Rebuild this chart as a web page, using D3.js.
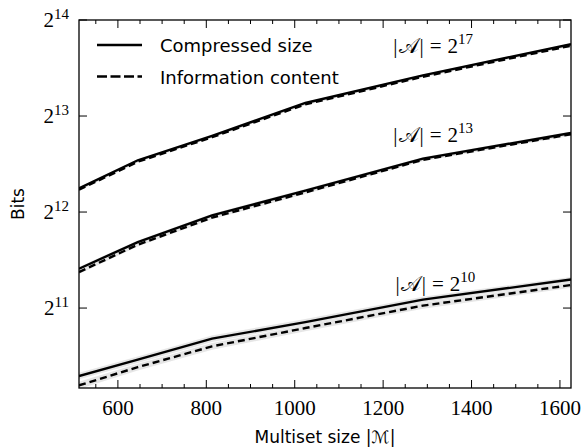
<!DOCTYPE html>
<html>
<head>
<meta charset="utf-8">
<script src="https://cdn.jsdelivr.net/npm/d3@7"></script>
<style>
  body { margin: 0; background: #fff; }
  svg { display: block; }
  .tick-label { font-family: "Liberation Serif", "DejaVu Serif", serif; font-size: 21px; fill: #000; }
  .sans { font-family: "DejaVu Sans", "Open Sans", sans-serif; fill: #000; }
</style>
</head>
<body>
<svg id="chart"></svg>
<script>
// multiset sizes 2^9 .. 2^(10+2/3)
const sizes = [512, 645, 813, 1024, 1290, 1625];

// bits, compressed size (solid) and information content (dashed)
const compressed17 = [4861, 5952, 7100, 9000, 10991, 13749];
const info17       = [4810, 5890, 7030, 8910, 10880, 13610];
const compressed13 = [2721, 3298, 4001, 4782, 6022, 7247];
const info13       = [2656, 3236, 3935, 4719, 5972, 7182];
const compressed10 = [1254, 1411, 1642, 1851, 2176, 2516];
const info10       = [1172, 1337, 1553, 1773, 2084, 2418];

// spread (bits) shown as grey band around each curve
const spread17 = [30, 35, 40, 50, 60, 70];
const spread13 = [35, 40, 45, 55, 65, 75];
const spread10 = [30, 33, 38, 40, 45, 48];

const xTicks = [600, 800, 1000, 1200, 1400, 1600];
const yTicks = [11, 12, 13, 14];
const legendLabels = ["Compressed size", "Information content"];

const series = [
  { exp: "17", solid: compressed17, dashed: info17, spread: spread17, labelX: 1223, labelExp: 13.653 },
  { exp: "13", solid: compressed13, dashed: info13, spread: spread13, labelX: 1223, labelExp: 12.726 },
  { exp: "10", solid: compressed10, dashed: info10, spread: spread10, labelX: 1228, labelExp: 11.174 }
];

const W = 584, H = 448;
const margin = { top: 20, right: 13, bottom: 60, left: 79 };
const width = W - margin.left - margin.right;
const height = H - margin.top - margin.bottom;

const svg = d3.select('#chart').attr('width', W).attr('height', H);
const g = svg.append('g').attr('transform', `translate(${margin.left},${margin.top})`);

const x = d3.scaleLinear().domain([512, 1625]).range([0, width]);
const y = d3.scaleLog().base(2).domain([1150, 16384]).range([height, 0]);

svg.append('defs').append('clipPath').attr('id', 'clip')
  .append('rect').attr('width', width).attr('height', height);

const plot = g.append('g').attr('clip-path', 'url(#clip)');

const line = d3.line().x((d, i) => x(sizes[i])).y(d => y(d));
const area = (vals, sp) => d3.area()
  .x((d, i) => x(sizes[i]))
  .y0((d, i) => y(d - sp[i]))
  .y1((d, i) => y(d + sp[i]))(vals);

series.forEach(s => {
  plot.append('path').attr('d', area(s.solid, s.spread)).attr('fill', '#dcdcdc').attr('fill-opacity', 0.7);
  plot.append('path').attr('d', area(s.dashed, s.spread)).attr('fill', '#dcdcdc').attr('fill-opacity', 0.7);
});
series.forEach(s => {
  plot.append('path').attr('d', line(s.dashed)).attr('fill', 'none')
    .attr('stroke', '#000').attr('stroke-width', 2.4).attr('stroke-dasharray', '7,4');
  plot.append('path').attr('d', line(s.solid)).attr('fill', 'none')
    .attr('stroke', '#000').attr('stroke-width', 2.4);
});

// axes, ticks pointing inward on all four sides
const xMinor = d3.range(550, 1625, 50);
const ax = g.append('g').attr('stroke', '#000').attr('stroke-width', 1);
xMinor.forEach(v => {
  const major = v % 200 === 0;
  const len = major ? 8 : 4;
  ax.append('line').attr('x1', x(v)).attr('x2', x(v)).attr('y1', height).attr('y2', height - len);
  ax.append('line').attr('x1', x(v)).attr('x2', x(v)).attr('y1', 0).attr('y2', len);
});
yTicks.forEach(e => {
  const yy = y(2 ** e);
  ax.append('line').attr('x1', 0).attr('x2', 8).attr('y1', yy).attr('y2', yy);
  ax.append('line').attr('x1', width).attr('x2', width - 8).attr('y1', yy).attr('y2', yy);
});
g.append('rect').attr('width', width).attr('height', height)
  .attr('fill', 'none').attr('stroke', '#000').attr('stroke-width', 1.3);

g.selectAll('.xl').data(xTicks).enter().append('text')
  .attr('class', 'tick-label').attr('x', d => x(d)).attr('y', height + 27)
  .attr('text-anchor', 'middle').text(d => d);

yTicks.forEach(e => {
  const t = g.append('text').attr('class', 'tick-label')
    .attr('x', -10).attr('y', y(2 ** e) + 7).attr('text-anchor', 'end');
  t.append('tspan').text('2');
  t.append('tspan').attr('dy', -8).attr('font-size', 15).text(e);
});

// legend
const leg = g.append('g');
legendLabels.forEach((lab, i) => {
  const ly = 25 + i * 31.5;
  leg.append('line').attr('x1', 18).attr('x2', 63).attr('y1', ly).attr('y2', ly)
    .attr('stroke', '#000').attr('stroke-width', 2.4)
    .attr('stroke-dasharray', i === 1 ? '10,3.5' : null);
  leg.append('text').attr('class', 'sans').attr('x', 81).attr('y', ly + 7)
    .attr('font-size', 18).text(lab);
});

// curve labels
series.forEach(s => {
  const t = g.append('text').attr('class', 'tick-label')
    .attr('x', x(s.labelX)).attr('y', y(2 ** s.labelExp));
  t.append('tspan').text('|');
  t.append('tspan').attr('dx', 1).text('𝒜');
  t.append('tspan').attr('dx', 1).text('|');
  t.append('tspan').attr('dx', 6).text('=');
  t.append('tspan').attr('dx', 6).text('2');
  t.append('tspan').attr('dy', -9).attr('font-size', 15).text(s.exp);
});

// axis titles
svg.append('text').attr('class', 'sans').attr('font-size', 17)
  .attr('x', margin.left + width / 2).attr('y', H - 5).attr('text-anchor', 'middle')
  .text('Multiset size |ℳ|');
svg.append('text').attr('class', 'sans').attr('font-size', 17)
  .attr('transform', `translate(24,${margin.top + height / 2}) rotate(-90)`)
  .attr('text-anchor', 'middle').text('Bits');
</script>
</body>
</html>
